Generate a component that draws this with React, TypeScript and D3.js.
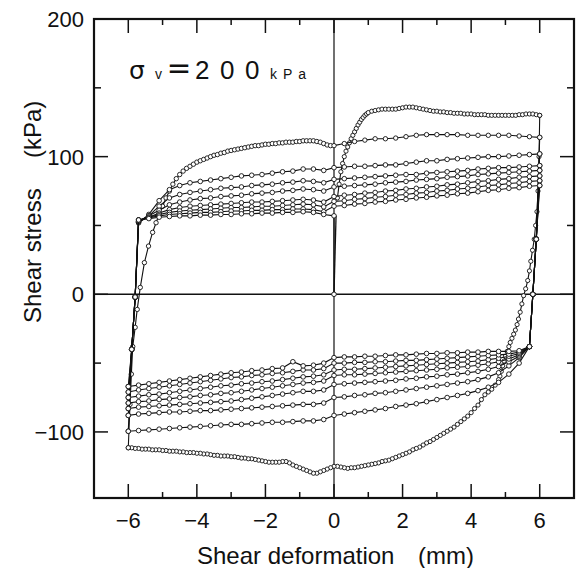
import React, { useRef, useEffect } from "react";
import * as d3 from "d3";

// Cyclic direct shear test, sigma_v = 200 kPa
// shear deformation (mm) vs shear stress (kPa), one branch per half cycle

const FONT = "'Liberation Sans', Arial, Helvetica, sans-serif";

const xMajorTicks = [-6, -4, -2, 0, 2, 4, 6];
const xMinorTicks = [-5, -3, -1, 1, 3, 5];
const yMajorTicks = [-100, 0, 100, 200];
const yMinorTicks = [-50, 50, 150];
const xTickLabels = ["\u22126", "\u22124", "\u22122", "0", "2", "4", "6"];
const yTickLabels = ["\u2212100", "0", "100", "200"];

// sampling positions of the sparse branches
const gridUp = [-5.7, -5.4, -5.1, -4.8, -4.5, -4.2, -3.9, -3.6, -3.3, -3.0, -2.7, -2.4, -2.1, -1.8, -1.5, -1.2, -0.9, -0.6, -0.3, 0.0,
  0.3, 0.6, 0.9, 1.2, 1.5, 1.8, 2.1, 2.4, 2.7, 3.0, 3.3, 3.6, 3.9, 4.2, 4.5, 4.8, 5.1, 5.4, 5.7, 6.0];
const gridDown = [5.4, 5.1, 4.8, 4.5, 4.2, 3.9, 3.6, 3.3, 3.0, 2.7, 2.4, 2.1, 1.8, 1.5, 1.2, 0.9, 0.6, 0.3, 0.0, -0.3,
  -0.6, -0.9, -1.2, -1.5, -1.8, -2.1, -2.4, -2.7, -3.0, -3.3, -3.6, -3.9, -4.2, -4.5, -4.8, -5.1, -5.4, -5.7, -6.0];

// first loading (densely recorded)
const u1Elastic = [[0, 0], [0.06, 57]];
const u1 = [[0.1, 70], [0.15, 80], [0.2, 89], [0.25, 95], [0.3, 100], [0.35, 104], [0.4, 107], [0.45, 110], [0.5, 113], [0.55, 115.5],
  [0.6, 118], [0.65, 120.5], [0.7, 123], [0.75, 125], [0.8, 127], [0.85, 128.5], [0.9, 130], [0.95, 131], [1.0, 132], [1.1, 133],
  [1.2, 133.5], [1.3, 134], [1.4, 134.5], [1.5, 134.5], [1.6, 134.5], [1.7, 134.5], [1.8, 134.5], [1.9, 135], [2.0, 135.5], [2.1, 136],
  [2.2, 136], [2.3, 136], [2.4, 135.5], [2.5, 135], [2.6, 134.5], [2.7, 134], [2.8, 133.5], [2.9, 133], [3.0, 133], [3.1, 132.5],
  [3.2, 132.5], [3.3, 132], [3.4, 132], [3.5, 131.5], [3.6, 131.5], [3.7, 131.5], [3.8, 131], [3.9, 131], [4.0, 131], [4.1, 130.5],
  [4.2, 130.5], [4.3, 130.5], [4.4, 130.5], [4.5, 130], [4.6, 130], [4.7, 130], [4.8, 130], [4.9, 130], [5.0, 130], [5.1, 130],
  [5.2, 130], [5.3, 130], [5.4, 130.5], [5.5, 130.5], [5.6, 131], [5.7, 131], [5.8, 131], [5.9, 130.5], [6.0, 130]];

// first reversal (densely recorded)
const l1 = [[6, 130], [5.98, 100], [5.95, 75], [5.92, 60], [5.88, 50], [5.84, 40], [5.79, 32], [5.74, 24], [5.7, 17], [5.65, 10],
  [5.59, 4], [5.53, -1], [5.48, -7], [5.43, -13], [5.38, -18], [5.34, -22], [5.29, -26], [5.24, -29], [5.19, -32], [5.14, -35],
  [5.1, -38], [5.05, -41.5], [5.0, -45], [4.96, -48.5], [4.92, -52], [4.88, -56], [4.84, -59.5], [4.8, -62], [4.7, -66], [4.6, -69],
  [4.5, -71], [4.4, -73], [4.3, -76.5], [4.2, -80.5], [4.1, -83], [4.0, -86], [3.9, -88.5], [3.8, -90.5], [3.7, -92.5], [3.6, -94.5],
  [3.5, -96.5], [3.4, -98], [3.3, -99.5], [3.2, -101], [3.1, -102.5], [3.0, -104], [2.9, -105.5], [2.8, -107], [2.7, -108], [2.6, -109.5],
  [2.5, -111], [2.4, -112], [2.3, -113], [2.2, -114.5], [2.1, -115.5], [2.0, -116.5], [1.9, -117.5], [1.8, -118.5], [1.7, -119.5], [1.6, -120.5],
  [1.5, -121], [1.4, -121.5], [1.3, -122.5], [1.2, -123], [1.1, -123.5], [1.0, -124], [0.9, -124.5], [0.8, -125], [0.7, -125.5], [0.6, -126],
  [0.5, -126], [0.4, -126.5], [0.3, -126], [0.2, -125.5], [0.1, -125], [0.0, -125], [-0.1, -126], [-0.2, -127], [-0.3, -128], [-0.4, -129],
  [-0.5, -130], [-0.6, -130], [-0.7, -129], [-0.8, -128], [-0.9, -127], [-1.0, -126], [-1.1, -125], [-1.2, -124], [-1.3, -122.5], [-1.4, -121.5],
  [-1.5, -121.5], [-1.6, -122], [-1.7, -122], [-1.8, -122], [-1.9, -122], [-2.0, -121.5], [-2.1, -121], [-2.2, -120.5], [-2.3, -120], [-2.4, -119.5],
  [-2.5, -119.5], [-2.6, -119], [-2.7, -119], [-2.8, -118.5], [-2.9, -118], [-3.0, -118], [-3.1, -117.5], [-3.2, -117.5], [-3.3, -117.5], [-3.4, -117],
  [-3.5, -117], [-3.6, -116.5], [-3.7, -116], [-3.8, -116], [-3.9, -115.5], [-4.0, -115.5], [-4.1, -115], [-4.2, -115], [-4.3, -115], [-4.4, -114.5],
  [-4.5, -114.5], [-4.6, -114], [-4.7, -114], [-4.8, -114], [-4.9, -113.5], [-5.0, -113.5], [-5.1, -113], [-5.2, -113], [-5.3, -113], [-5.4, -112.5],
  [-5.5, -112.5], [-5.6, -112.5], [-5.7, -112], [-5.8, -112], [-5.9, -111.5], [-6.0, -111.5]];

// second loading: dense up to 0 mm, then sparse
const u2Dense = [[-6, -111.5], [-5.95, -80], [-5.91, -58], [-5.87, -38], [-5.8, -24], [-5.74, -11], [-5.65, 5], [-5.53, 23], [-5.41, 35], [-5.29, 45],
  [-5.19, 52], [-5.1, 58], [-5.0, 64], [-4.9, 70], [-4.8, 75], [-4.7, 80], [-4.6, 84], [-4.5, 87], [-4.4, 89.5], [-4.3, 91.5],
  [-4.2, 93], [-4.1, 94.5], [-4.0, 96], [-3.9, 97], [-3.8, 98], [-3.7, 99], [-3.6, 100], [-3.5, 101], [-3.4, 101.5], [-3.3, 102.5],
  [-3.2, 103], [-3.1, 104], [-3.0, 104.5], [-2.9, 105], [-2.8, 105.5], [-2.7, 106], [-2.6, 106.5], [-2.5, 107], [-2.4, 107.5], [-2.3, 108],
  [-2.2, 108], [-2.1, 108.5], [-2.0, 109], [-1.9, 109], [-1.8, 109.5], [-1.7, 109.5], [-1.6, 110], [-1.5, 110], [-1.4, 110.5], [-1.3, 110.5],
  [-1.2, 110.5], [-1.1, 111], [-1.0, 111], [-0.9, 111.5], [-0.8, 111.5], [-0.7, 111.5], [-0.6, 111.5], [-0.5, 111], [-0.4, 110.5], [-0.3, 109.5],
  [-0.2, 108.5], [-0.1, 108], [0.0, 108]];
const u2Sparse = [109.5, 111, 112, 113, 113, 113.5, 114.5, 115.5, 116, 116, 116, 116, 115.5, 115.5, 115.5, 115.5, 115.5, 115, 114.5, 114];

// later loading branches, stress at gridUp
const u3 = [52, 58, 68, 76, 79, 81, 82, 83, 84, 85, 86, 86.5, 87, 88, 89, 89.5, 91, 91, 90, 92,
  92.5, 93, 93, 93.5, 94, 94, 95, 96, 97, 97, 98, 98.5, 99, 99.5, 100, 100, 100.5, 101, 101.5, 102];
const u4 = [52, 57, 64, 70, 72.5, 74, 75, 76, 77, 77.5, 78, 79, 79.5, 80, 81, 81.5, 82.5, 82, 81, 83.5,
  84, 84.5, 85, 85.5, 86, 86.5, 87, 87, 88, 88.5, 89, 89.5, 90, 91, 91.5, 92, 92, 92.5, 93, 93.5];
const u5 = [53, 57, 61, 65, 67, 68.5, 69.5, 70, 71, 71.5, 72, 73, 73.5, 74, 75, 75.5, 76.5, 76, 75, 78,
  78.5, 79, 79.5, 80, 81, 81.5, 82, 83, 83.5, 84, 85, 85.5, 86, 87, 87.5, 88, 88.5, 89, 89.5, 90];
const u6 = [53, 56, 59, 61.5, 63, 64, 64.5, 65, 65.5, 66, 66.5, 67, 67, 67.5, 68, 68.5, 69, 68.5, 67, 71,
  72, 72.5, 73.5, 74, 75, 75.5, 76.5, 77, 78, 78.5, 79.5, 80, 81, 82, 82.5, 83.5, 84, 85, 85.5, 86];
const u7 = [54, 56, 58, 59.5, 60.5, 61, 61.5, 62, 62.5, 63, 63, 63.5, 64, 64, 64.5, 65, 65.5, 65, 63.5, 67.5,
  68, 69, 69.5, 70.5, 71, 72, 72.5, 73.5, 74, 75, 75.5, 76.5, 77, 78, 79, 79.5, 80.5, 81, 82, 82.5];
const u8 = [54, 55.5, 57, 58, 58.5, 59, 59.5, 59.5, 60, 60.5, 60.5, 61, 61, 61.5, 61.5, 62, 62, 61.5, 60, 64,
  64.5, 65.5, 66, 67, 67.5, 68.5, 69, 70, 70.5, 71.5, 72, 73, 73.5, 74.5, 75.5, 76, 77, 77.5, 78.5, 79];
// last loading stops at 0 mm
const u9 = [54, 55, 56, 56.5, 57, 57, 57.5, 57.5, 58, 58, 58.5, 58.5, 59, 59, 59.5, 59.5, 60, 59.5, 58, 57];

// reversal branches, stress at gridDown
const l2 = [-50, -58, -64, -67.5, -70, -72, -73.5, -75, -76.5, -78, -79.5, -80.5, -81.5, -83, -84, -85, -86, -87, -88, -91,
  -92, -92, -92.5, -93, -93, -93.5, -94, -94.5, -94.5, -95, -95.5, -96, -96.5, -97, -97.5, -98, -98.5, -99, -99.5];
const l3 = [-46, -52, -57, -60, -62, -63.5, -64.5, -65.5, -66.5, -67.5, -68.5, -69.5, -70.5, -71.5, -72, -73, -73.5, -74.5, -75, -79,
  -80, -80, -80.5, -81, -81.5, -82, -82.5, -83, -83.5, -84, -84.5, -84.5, -85, -85.5, -85.5, -86, -86.5, -87, -88];
const l4 = [-45, -49, -52.5, -54.5, -56, -57, -58, -58.5, -59.5, -60, -61, -61.5, -62.5, -63, -63.5, -64, -64.5, -65, -65.5, -69.5,
  -70.5, -70.5, -71.5, -72.5, -73.5, -74.5, -75.5, -76.5, -77.5, -78, -78.5, -79, -79.5, -80, -80.5, -81, -81.5, -82, -83];
const l5 = [-44, -47, -49, -50.5, -51.5, -52.5, -53, -53.5, -54.5, -55, -55.5, -56, -56.5, -57, -57.5, -58, -58.5, -58.5, -59, -63,
  -64, -64.5, -65.5, -66.5, -67.5, -68.5, -69.5, -70.5, -71.5, -72, -73, -73.5, -74.5, -75, -76, -76.5, -77.5, -78, -79];
const l6 = [-43, -45, -46.5, -47.5, -48.5, -49, -49.5, -50, -50.5, -51, -51.5, -52, -52.5, -53, -53.5, -54, -54.5, -54.5, -55, -58.5,
  -59.5, -60, -61, -62, -63, -63.5, -64.5, -65, -66, -66.5, -67.5, -68.5, -69.5, -70.5, -71.5, -72.5, -73, -74, -75];
const l7 = [-42, -43.5, -44, -44.5, -45, -45.5, -46, -46.5, -47, -47.5, -48, -48, -48.5, -49, -49, -49.5, -49.5, -50, -50, -54,
  -55, -55, -56, -57, -57.5, -58.5, -59, -60, -60.5, -61.5, -62.5, -63.5, -64.5, -65.5, -66.5, -67.5, -68.5, -69.5, -71];
const l8 = [-41, -41.5, -41.5, -41.5, -42, -42, -42.5, -42.5, -43, -43, -43.5, -44, -44, -44.5, -45, -45, -45.5, -45.5, -46, -50,
  -51.5, -52, -49, -53.5, -54, -55, -55.5, -56.5, -57, -58, -59, -60, -61, -62, -63, -64, -65, -66, -67];

const last = (a) => a[a.length - 1];

const loadBranch = (startY, ys) => [[-6, startY], [-5.9, -40], [-5.8, -2], ...ys.map((v, i) => [gridUp[i], v])];
const reverseBranch = (startY, ys) => [[6, startY], [5.9, 40], [5.8, 0], [5.7, -38], ...ys.map((v, i) => [gridDown[i], v])];

const HysteresisChart = ({ width = 576, height = 568 }) => {
  const svgRef = useRef(null);

  useEffect(() => {
    document.body.style.margin = "0";
    const svg = d3.select(svgRef.current);
    svg.selectAll("*").remove();
    svg.attr("width", width).attr("height", height);

    const left = 94, right = 574, top = 19, bottom = 498;
    const x = d3.scaleLinear().domain([-7, 7]).range([left, right]);
    const y = d3.scaleLinear().domain([-148, 200]).range([bottom, top]);

    svg.append("rect").attr("width", width).attr("height", height).attr("fill", "#fff");

    // branches in test order
    const u2 = [...u2Dense, ...u2Sparse.map((v, i) => [gridUp[20 + i], v])];
    const branches = [
      { pts: u1, r: 2.1 },
      { pts: l1, r: 2.1 },
      { pts: u2, r: 2.2 },
    ];
    const ups = [u3, u4, u5, u6, u7, u8];
    const downs = [l2, l3, l4, l5, l6, l7, l8];
    let prevDown = l1;
    let prevUp = u2;
    downs.forEach((ld, i) => {
      const lb = reverseBranch(last(prevUp)[1], ld);
      branches.push({ pts: lb, r: 2.3 });
      prevDown = lb;
      if (i < ups.length) {
        const ub = loadBranch(last(prevDown)[1], ups[i]);
        branches.push({ pts: ub, r: 2.3 });
        prevUp = ub;
      }
    });
    const u9b = [...loadBranch(last(prevDown)[1], u9), [0, 0]];
    branches.push({ pts: u9b, r: 2.3 });

    const plot = svg.append("g");

    // zero lines
    plot.append("line").attr("x1", left).attr("x2", right).attr("y1", y(0)).attr("y2", y(0))
      .attr("stroke", "#111").attr("stroke-width", 1.4);
    plot.append("line").attr("x1", x(0)).attr("x2", x(0)).attr("y1", top).attr("y2", bottom)
      .attr("stroke", "#111").attr("stroke-width", 1.2);

    const line = d3.line().x((d) => x(d[0])).y((d) => y(d[1]));

    plot.append("path").datum(u1Elastic).attr("d", line)
      .attr("fill", "none").attr("stroke", "#111").attr("stroke-width", 1.3);

    branches.forEach((b) => {
      const g = plot.append("g");
      g.append("path").datum([...b.pts]).attr("d", line)
        .attr("fill", "none").attr("stroke", "#111").attr("stroke-width", 1.1);
      g.selectAll("circle").data(b.pts).enter().append("circle")
        .attr("cx", (d) => x(d[0])).attr("cy", (d) => y(d[1])).attr("r", b.r)
        .attr("fill", "#fff").attr("stroke", "#111").attr("stroke-width", 0.9);
    });

    // frame
    svg.append("rect").attr("x", left).attr("y", top).attr("width", right - left).attr("height", bottom - top)
      .attr("fill", "none").attr("stroke", "#111").attr("stroke-width", 2.2);

    // inward ticks on all sides
    const ticks = svg.append("g").attr("stroke", "#111").attr("stroke-width", 1.5);
    const addX = (vals, len) => vals.forEach((v) => {
      ticks.append("line").attr("x1", x(v)).attr("x2", x(v)).attr("y1", bottom).attr("y2", bottom - len);
      ticks.append("line").attr("x1", x(v)).attr("x2", x(v)).attr("y1", top).attr("y2", top + len);
    });
    const addY = (vals, len) => vals.forEach((v) => {
      ticks.append("line").attr("x1", left).attr("x2", left + len).attr("y1", y(v)).attr("y2", y(v));
      ticks.append("line").attr("x1", right).attr("x2", right - len).attr("y1", y(v)).attr("y2", y(v));
    });
    addX(xMajorTicks, 14);
    addX(xMinorTicks, 6);
    addY(yMajorTicks, 14);
    addY(yMinorTicks, 7);

    // tick labels
    svg.append("g").selectAll("text").data(xMajorTicks).enter().append("text")
      .attr("x", (d) => x(d)).attr("y", 528).attr("text-anchor", "middle")
      .attr("font-family", FONT).attr("font-size", 22).attr("fill", "#111")
      .text((d, i) => xTickLabels[i]);
    svg.append("g").selectAll("text").data(yMajorTicks).enter().append("text")
      .attr("x", 84).attr("y", (d) => y(d) + 8).attr("text-anchor", "end")
      .attr("font-family", FONT).attr("font-size", 22).attr("fill", "#111")
      .text((d, i) => yTickLabels[i]);

    // axis titles
    const xt = svg.append("g").attr("font-family", FONT).attr("font-size", 24).attr("fill", "#111");
    xt.append("text").attr("x", 197).attr("y", 564).text("Shear deformation");
    xt.append("text").attr("x", 418).attr("y", 564).text("(mm)");

    const yt = svg.append("g").attr("transform", "translate(41,323) rotate(-90)")
      .attr("font-family", FONT).attr("font-size", 24).attr("fill", "#111");
    yt.append("text").attr("x", 0).attr("y", 0).text("Shear stress");
    yt.append("text").attr("x", 165).attr("y", 0).text("(kPa)");

    // condition label
    const cond = svg.append("g").attr("fill", "#111");
    cond.append("text").attr("x", 129).attr("y", 79).attr("font-family", "'DejaVu Sans', sans-serif")
      .attr("font-size", 25).text("σ");
    cond.append("text").attr("x", 155).attr("y", 79).attr("font-family", FONT)
      .attr("font-size", 14).text("v");
    cond.append("text").attr("x", 166).attr("y", 79).attr("font-family", "'Noto Sans CJK JP', sans-serif")
      .attr("font-size", 26).attr("font-weight", "bold").text("＝");
    cond.append("text").attr("x", 195).attr("y", 79).attr("font-family", FONT)
      .attr("font-size", 26).attr("letter-spacing", 10.5).text("200");
    cond.append("text").attr("x", 270).attr("y", 79).attr("font-family", FONT)
      .attr("font-size", 14).attr("letter-spacing", 6).text("kPa");
  }, [width, height]);

  return <svg ref={svgRef} style={{ display: "block" }}></svg>;
};

export default function App() {
  return <HysteresisChart />;
}
